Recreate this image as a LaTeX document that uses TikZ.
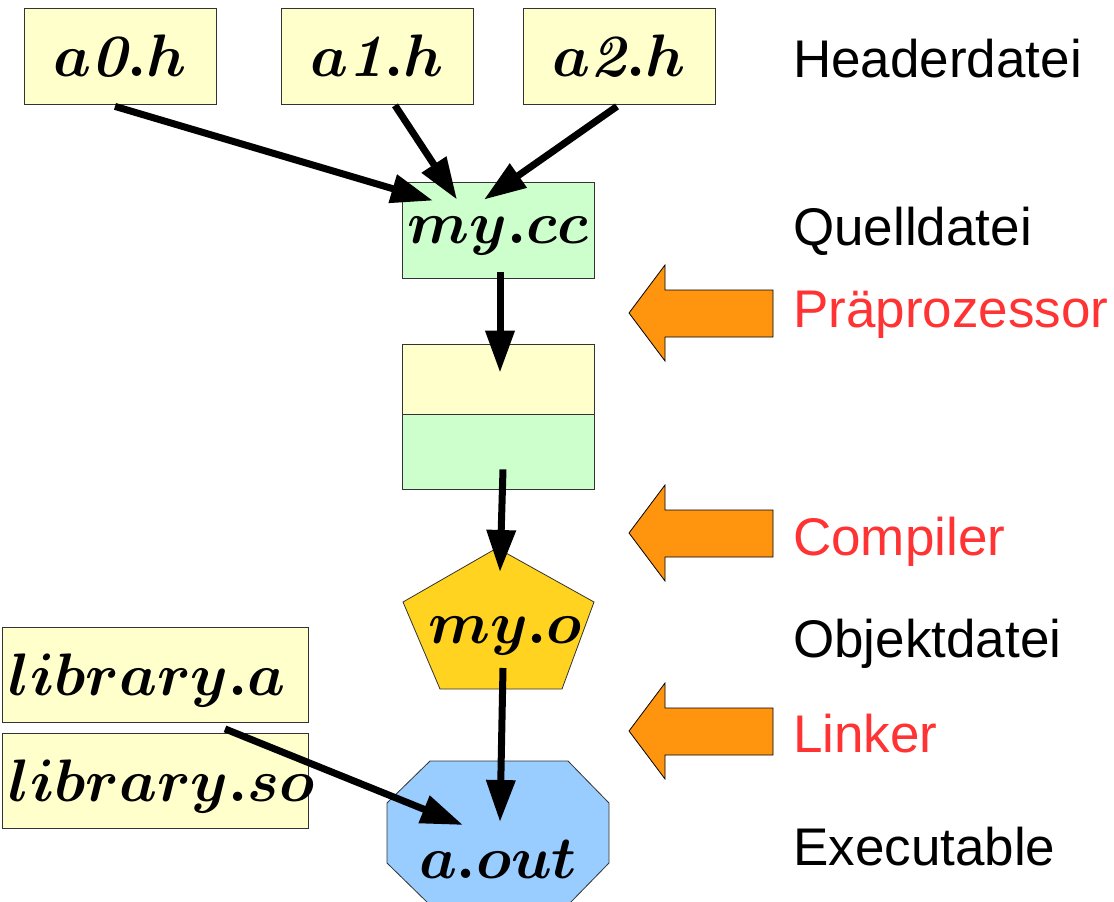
\RequirePackage{fix-cm}
\documentclass[tikz,border=0pt]{standalone}
\usepackage{fontspec}
\newfontfamily\lblfont{Liberation Sans}
\usetikzlibrary{arrows.meta, positioning, calc}

\definecolor{hdryellow}{HTML}{FFFFCC}
\definecolor{srcgreen}{HTML}{CCFFCC}
\definecolor{objgold}{HTML}{FFD320}
\definecolor{exeblue}{HTML}{99CCFF}
\definecolor{stepor}{HTML}{FF950E}
\definecolor{stepred}{HTML}{FF3333}

\newcommand{\itdigit}[1]{\mbox{\bfseries\itshape #1}}

\tikzset{
  file/.style={draw=black!80, line width=0.8pt, minimum width=192pt, minimum height=96pt,
    inner sep=0pt, text depth=0pt, font=\fontsize{60}{70}\selectfont\boldmath},
  libfile/.style={file, fill=hdryellow, minimum width=306pt, minimum height=95pt,
    text width=292pt, align=left, inner xsep=7pt},
  mathlbl/.style={inner sep=0pt, anchor=base, font=\fontsize{60}{70}\selectfont\boldmath},
  kind/.style={anchor=base west, inner sep=0pt, font=\fontsize{53}{60}\lblfont},
  tool/.style={kind, text=stepred},
  conn/.style={line width=7pt, -{Triangle[length=42pt,width=28pt]}},
  bigarrow/.style={draw=black, line width=0.8pt, fill=stepor}
}

\begin{document}
\begin{tikzpicture}[x=1pt, y=-1pt]
\useasboundingbox (0,0) rectangle (1114,902);

% header files
\node[file, fill=hdryellow] (a0) at (120,56) {$a\itdigit{0}.h$};
\node[file, fill=hdryellow] (a1) at (377,56) {$a\itdigit{1}.h$};
\node[file, fill=hdryellow] (a2) at (619,56) {$a\itdigit{2}.h$};

% source and preprocessed file
\node[file, fill=srcgreen] (mycc) at (498,230) {$my.cc$};
\node[file, fill=srcgreen, minimum height=94pt] (prebot) at (498,442) {};
\node[file, fill=hdryellow, minimum height=70pt] (pretop) at (498,379) {};

% object file
\draw[draw=black!80, line width=0.8pt, fill=objgold]
  (497,548) -- (594,602) -- (562,689) -- (440,689) -- (403,602) -- cycle;
\node[mathlbl] (myo) at (505,643) {$my.o$};

% executable
\draw[draw=black!80, line width=0.8pt, fill=exeblue]
  (430,761) -- (568,761) -- (609,803) -- (609,863) -- (568,905)
  -- (430,905) -- (387,863) -- (387,803) -- cycle;
\node[mathlbl] (aout) at (498,878) {$a.out$};

% libraries
\node[libfile] (liba) at (155,675) {$library.a$};
\node[libfile] (libso) at (155,781) {$library.so$};

% connectors
\draw[conn] ([xshift=-5pt,yshift=-2pt]a0.south) -- ([xshift=-65pt,yshift=-19pt]mycc.north);
\draw[conn] ([xshift=18pt,yshift=-1pt]a1.south) -- ([xshift=-41pt,yshift=-18pt]mycc.north);
\draw[conn] ([xshift=-2pt,yshift=-2pt]a2.south) -- ([xshift=-14pt,yshift=-18pt]mycc.north);
\draw[conn] ([xshift=2pt,yshift=6pt]mycc.south) -- ([xshift=2pt,yshift=-29pt]pretop.north);
\draw[conn] ([xshift=5pt,yshift=20pt]prebot.south) -- ([xshift=-5pt,yshift=71pt]myo.base);
\draw[conn] ([xshift=-2pt,yshift=-25pt]myo.base) -- ([xshift=2pt,yshift=56pt]aout.base);
\draw[conn] ([xshift=70pt,yshift=-6pt]liba.south) -- ([xshift=-35pt,yshift=53pt]aout.base);

% processing steps
\foreach \cy in {313,533,731}
  \draw[bigarrow] (629,\cy) -- (665,\cy-48) -- (665,\cy-23) -- (773,\cy-23)
    -- (773,\cy+24) -- (665,\cy+24) -- (665,\cy+48) -- cycle;

% labels
\node[kind] (lhdr) at (793,77) {Headerdatei};
\node[kind] (lsrc) at (793,245) {Quelldatei};
\node[tool] (lpre) at (793,327) {Präprozessor};
\node[tool] (lcmp) at (793,555) {Compiler};
\node[kind] (lobj) at (793,657) {Objektdatei};
\node[tool] (llnk) at (793,752) {Linker};
\node[kind] (lexe) at (793,865) {Executable};
\end{tikzpicture}
\end{document}
